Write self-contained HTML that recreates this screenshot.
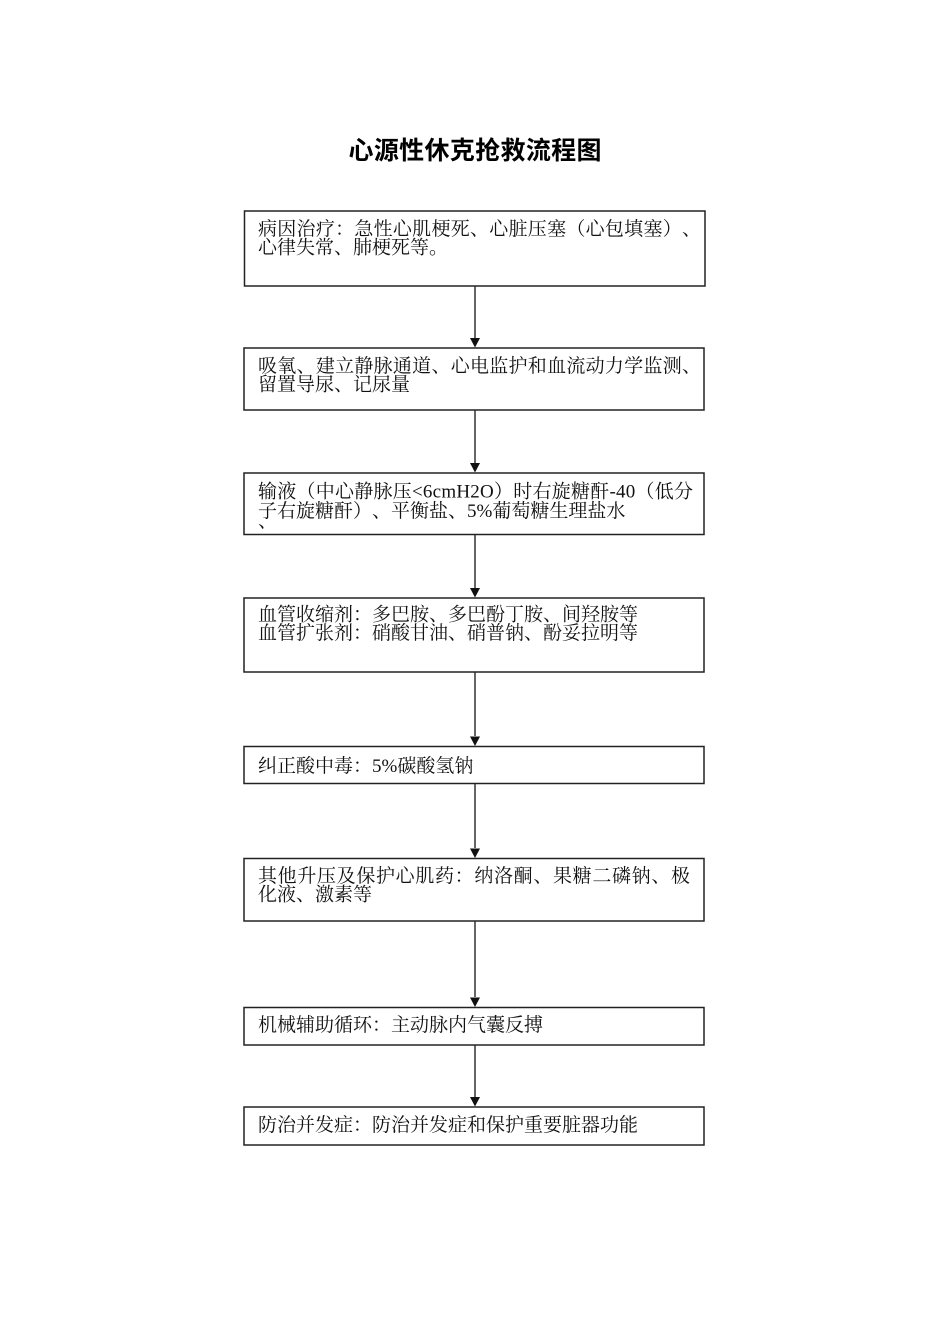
<!DOCTYPE html>
<html>
<head>
<meta charset="utf-8">
<style>
  html, body { margin: 0; padding: 0; background: #ffffff; }
  body { width: 950px; height: 1344px; overflow: hidden; text-spacing-trim: space-all; }
  svg { display: block; text-spacing-trim: space-all; }
  .t { font-family: "Liberation Serif", "Noto Serif CJK SC", serif; font-size: 19px; fill: #111; text-spacing-trim: space-all; font-kerning: none; }
  .title { font-family: "Liberation Sans", "Noto Sans CJK SC", sans-serif; font-size: 25px; font-weight: bold; fill: #000; }
</style>
</head>
<body>
<svg width="950" height="1344" viewBox="0 0 950 1344" xmlns="http://www.w3.org/2000/svg">

  <!-- Title -->
  <text class="title" x="475" y="159" text-anchor="middle" textLength="253" lengthAdjust="spacing">心源性休克抢救流程图</text>

  <g fill="none" stroke="#222" stroke-width="1.5">
    <rect x="244.5" y="211" width="460.5" height="75"/>
    <rect x="244" y="348" width="460" height="62"/>
    <rect x="244" y="473" width="460" height="61.5"/>
    <rect x="244" y="598" width="460" height="74"/>
    <rect x="244" y="746.5" width="460" height="37"/>
    <rect x="244" y="858.5" width="460" height="62.5"/>
    <rect x="244" y="1007.5" width="460" height="37.5"/>
    <rect x="244" y="1107" width="460" height="38"/>
  </g>

  <!-- connectors -->
  <g stroke="#333" stroke-width="1.5">
    <line x1="475" y1="286.5" x2="475" y2="338"/>
    <line x1="475" y1="410.5" x2="475" y2="463"/>
    <line x1="475" y1="535" x2="475" y2="588"/>
    <line x1="475" y1="672.5" x2="475" y2="736"/>
    <line x1="475" y1="784" x2="475" y2="848"/>
    <line x1="475" y1="921.5" x2="475" y2="997"/>
    <line x1="475" y1="1045.5" x2="475" y2="1097"/>
  </g>
  <g fill="#111">
    <path d="M470,338 L480,338 L475,347.5 Z"/>
    <path d="M470,463 L480,463 L475,472.5 Z"/>
    <path d="M470,588 L480,588 L475,597.5 Z"/>
    <path d="M470,736.5 L480,736.5 L475,746 Z"/>
    <path d="M470,848.5 L480,848.5 L475,858 Z"/>
    <path d="M470,997.5 L480,997.5 L475,1007 Z"/>
    <path d="M470,1097 L480,1097 L475,1106.5 Z"/>
  </g>

  <!-- Box 1 -->
  <text class="t" x="258" y="235" textLength="443" lengthAdjust="spacing">病因治疗：急性心肌梗死、心脏压塞（心包填塞）、</text>
  <text class="t" x="258" y="253.5">心律失常、肺梗死等。</text>

  <!-- Box 2 -->
  <text class="t" x="258" y="372" textLength="443" lengthAdjust="spacing">吸氧、建立静脉通道、心电监护和血流动力学监测、</text>
  <text class="t" x="258" y="390.5">留置导尿、记尿量</text>

  <!-- Box 3 -->
  <text class="t" x="258" y="497.5" textLength="435" lengthAdjust="spacing">输液（中心静脉压&lt;6cmH2O）时右旋糖酐-40（低分</text>
  <text class="t" x="258" y="517">子右旋糖酐）、平衡盐、5%葡萄糖生理盐水</text>
  <text class="t" x="258" y="527">、</text>

  <!-- Box 4 -->
  <text class="t" x="258" y="620.5">血管收缩剂：多巴胺、多巴酚丁胺、间羟胺等</text>
  <text class="t" x="258" y="639">血管扩张剂：硝酸甘油、硝普钠、酚妥拉明等</text>

  <!-- Box 5 -->
  <text class="t" x="258" y="772">纠正酸中毒：5%碳酸氢钠</text>

  <!-- Box 6 -->
  <text class="t" x="258" y="882" textLength="432" lengthAdjust="spacing">其他升压及保护心肌药：纳洛酮、果糖二磷钠、极</text>
  <text class="t" x="258" y="900.5">化液、激素等</text>

  <!-- Box 7 -->
  <text class="t" x="258" y="1031">机械辅助循环：主动脉内气囊反搏</text>

  <!-- Box 8 -->
  <text class="t" x="258" y="1131">防治并发症：防治并发症和保护重要脏器功能</text>
</svg>
</body>
</html>
